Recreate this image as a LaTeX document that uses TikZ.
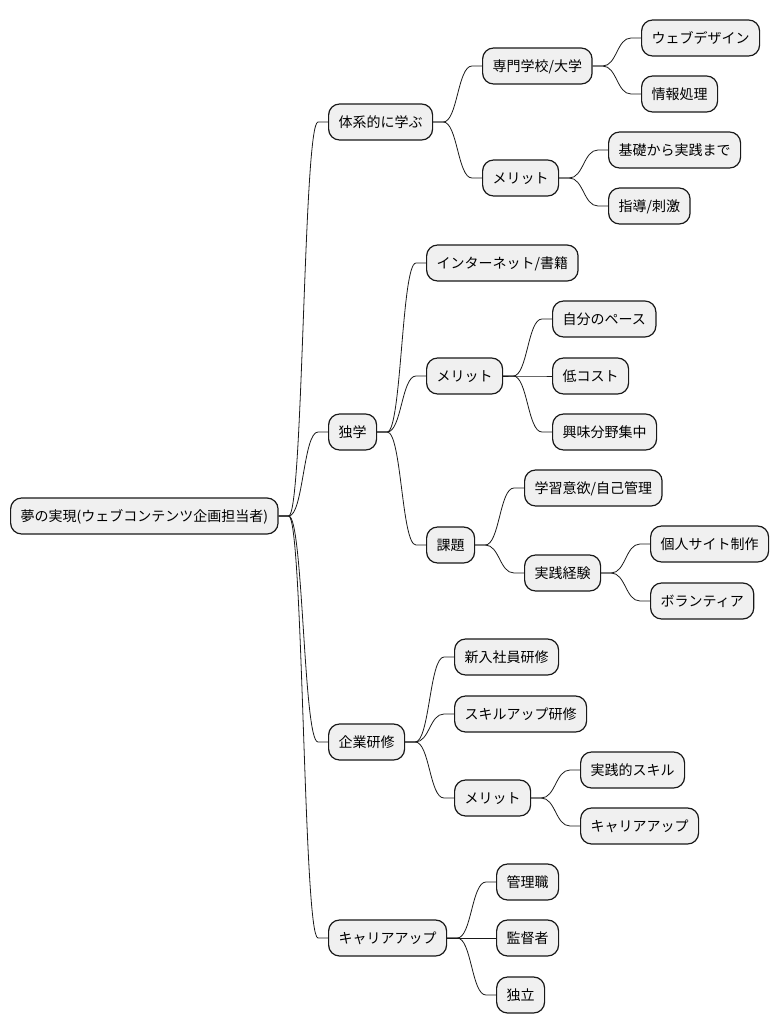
\documentclass[tikz,border=0pt]{standalone}
\usepackage{fontspec}
\setmainfont{Noto Sans CJK JP}
\usetikzlibrary{calc}

\tikzset{
  topic/.style={draw=black!90, fill=black!6, line width=1.2pt, rounded corners=11pt,
    minimum height=36pt, inner xsep=10pt, inner ysep=0pt, anchor=west,
    text height=12pt, text depth=2pt,
    font=\fontsize{14pt}{16pt}\selectfont},
  branch/.style={line width=0.8pt, black!90}
}
\newcommand{\branchto}[2]{%
  \path (#1.east) ++(10pt,0) coordinate (s) (#2.west) ++(-10pt,0) coordinate (t);
  \path ($(s)!0.5!(t)$) coordinate (m);
  \draw[branch] (#1.east) -- (s) .. controls (m |- s) and (m |- t) .. (t) -- (#2.west);
}

\begin{document}
\begin{tikzpicture}[x=1pt, y=-1pt]
\useasboundingbox (0,0) rectangle (779,1034);
\node[topic] (root) at (10,516) {夢の実現(ウェブコンテンツ企画担当者)};
\node[topic] (sys) at (328,122) {体系的に学ぶ};
\node[topic] (school) at (482,66) {専門学校/大学};
\node[topic] (webdes) at (641,38) {ウェブデザイン};
\node[topic] (info) at (641,94) {情報処理};
\node[topic] (sysmer) at (482,178) {メリット};
\node[topic] (basics) at (608,150) {基礎から実践まで};
\node[topic] (guide) at (608,206) {指導/刺激};
\node[topic] (self) at (328,432) {独学};
\node[topic] (net) at (426,263) {インターネット/書籍};
\node[topic] (selfmer) at (426,376) {メリット};
\node[topic] (pace) at (552,319) {自分のペース};
\node[topic] (cost) at (552,376) {低コスト};
\node[topic] (focus) at (552,432) {興味分野集中};
\node[topic] (issue) at (426,545) {課題};
\node[topic] (motiv) at (524,488) {学習意欲/自己管理};
\node[topic] (prac) at (524,573) {実践経験};
\node[topic] (site) at (650,544) {個人サイト制作};
\node[topic] (volun) at (650,601) {ボランティア};
\node[topic] (corp) at (328,742) {企業研修};
\node[topic] (newemp) at (454,657) {新入社員研修};
\node[topic] (skillup) at (454,714) {スキルアップ研修};
\node[topic] (corpmer) at (454,798) {メリット};
\node[topic] (pracskill) at (580,770) {実践的スキル};
\node[topic] (careerup) at (580,826) {キャリアアップ};
\node[topic] (career) at (328,938) {キャリアアップ};
\node[topic] (mgr) at (496,882) {管理職};
\node[topic] (superv) at (496,938) {監督者};
\node[topic] (indep) at (496,995) {独立};

\branchto{root}{sys}
\branchto{root}{self}
\branchto{root}{corp}
\branchto{root}{career}
\branchto{sys}{school}
\branchto{sys}{sysmer}
\branchto{school}{webdes}
\branchto{school}{info}
\branchto{sysmer}{basics}
\branchto{sysmer}{guide}
\branchto{self}{net}
\branchto{self}{selfmer}
\branchto{self}{issue}
\branchto{selfmer}{pace}
\branchto{selfmer}{cost}
\branchto{selfmer}{focus}
\branchto{issue}{motiv}
\branchto{issue}{prac}
\branchto{prac}{site}
\branchto{prac}{volun}
\branchto{corp}{newemp}
\branchto{corp}{skillup}
\branchto{corp}{corpmer}
\branchto{corpmer}{pracskill}
\branchto{corpmer}{careerup}
\branchto{career}{mgr}
\branchto{career}{superv}
\branchto{career}{indep}
\end{tikzpicture}
\end{document}
